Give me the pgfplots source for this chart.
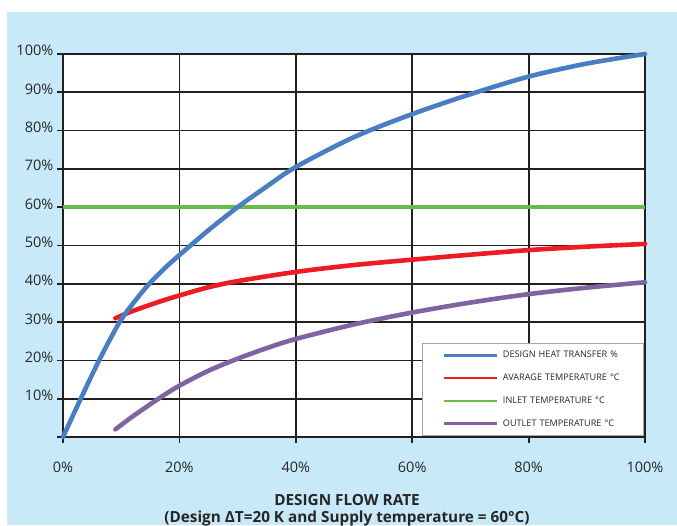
\documentclass[border=0pt]{standalone}
\usepackage{pgfplots}
\pgfplotsset{compat=1.18}
\usepackage{fontspec}
\setmainfont{Open Sans}
\definecolor{bgblue}{HTML}{C7E9F8}
\definecolor{cblue}{HTML}{4A7EC3}
\definecolor{cred}{HTML}{ED1C24}
\definecolor{cgreen}{HTML}{67BD45}
\definecolor{cpurple}{HTML}{8064A2}
\definecolor{gridc}{HTML}{231F20}
\begin{document}
\begin{tikzpicture}
\useasboundingbox (0pt,0pt) rectangle (677pt,525pt);
\fill[white] (0pt,0pt) rectangle (677pt,525pt);
\fill[bgblue] (7pt,0pt) rectangle (677pt,513pt);
\begin{axis}[
  at={(63pt,88pt)}, anchor=south west,
  scale only axis, width=582pt, height=383pt,
  xmin=0, xmax=100, ymin=0, ymax=100,
  clip=false,
  axis background/.style={fill=white},
  xtick={0,20,40,60,80,100},
  xticklabels={0\%,20\%,40\%,60\%,80\%,100\%},
  ytick={0,10,20,30,40,50,60,70,80,90,100},
  yticklabels={,10\%,20\%,30\%,40\%,50\%,60\%,70\%,80\%,90\%,100\%},
  tick pos=left, tick align=outside,
  major tick length=6pt,
  tick style={gridc, line width=1.8pt},
  grid=major,
  major grid style={gridc, line width=1.8pt},
  axis line style={gridc, line width=1.8pt},
  ticklabel style={font=\fontsize{14.5}{16}\selectfont, text=black!85, inner sep=0pt},
  yticklabel style={anchor=base east, xshift=-3.5pt, yshift=-2pt},
  xticklabel style={anchor=base, yshift=-29pt},
  legend style={at={(0.6168,0.2454)}, anchor=north west,
    draw=gray!70, line width=0.8pt, fill=white,
    inner xsep=20pt, inner ysep=6pt, row sep=10.7pt,
    font=\fontsize{9.1}{10}\selectfont,
    nodes={inner sep=2pt, anchor=west, text height=6.5pt, text depth=1.5pt, text=black!85},
    /tikz/every odd column/.append style={column sep=3pt},
    /tikz/every even column/.append style={text width=118pt}},
  legend cell align=left,
  legend image code/.code={\draw[#1, line width=2.6pt, line cap=butt] (0pt,0pt) -- (53pt,0pt);},
]
\addlegendimage{cblue}
\addlegendentry{DESIGN HEAT TRANSFER \%}
\addlegendimage{cred}
\addlegendentry{AVARAGE TEMPERATURE °C}
\addlegendimage{cgreen}
\addlegendentry{INLET TEMPERATURE °C}
\addlegendimage{cpurple}
\addlegendentry{OUTLET TEMPERATURE °C}

\addplot[cgreen, line width=4.6pt, forget plot] coordinates {(0,60) (100,60)};
\addplot[cred, line width=4.6pt, line cap=round, smooth, forget plot] coordinates {
(9.0,31.0) (12,32.9) (16.7,35.4) (20,36.95) (25,39.1) (30,40.7) (40,43.1) (50,44.9) (60,46.3) (70,47.6) (80,48.8) (90,49.7) (100,50.4)};
\addplot[cpurple, line width=4.6pt, line cap=round, smooth, forget plot] coordinates {
(9.0,2.0) (12,5.4) (16.7,10.3) (20,13.4) (25,17.3) (30,20.45) (35,23.2) (40,25.6) (50,29.4) (60,32.5) (70,35.1) (80,37.3) (90,39.0) (100,40.4)};
\addplot[cblue, line width=4.6pt, line cap=round, smooth, forget plot] coordinates {
(0,0) (3.05,10) (6.2,20) (9.65,29.8) (12.2,35.2) (14.7,39.8) (17.5,44.1) (20,47.5) (25,54.0) (30,60.0) (35,65.4) (40,70.5) (50,78.3) (60,84.3) (70,89.5) (80,94.1) (90,97.5) (100,100)};
\end{axis}
\node[anchor=base, font=\bfseries\fontsize{15.3}{17}\selectfont, text=black!85] at (347pt,20pt) {DESIGN FLOW RATE};
\node[anchor=base, font=\bfseries\fontsize{15.3}{17}\selectfont, text=black!85] at (347pt,3pt) {(Design ΔT=20 K and Supply temperature = 60°C)};
\end{tikzpicture}
\end{document}
